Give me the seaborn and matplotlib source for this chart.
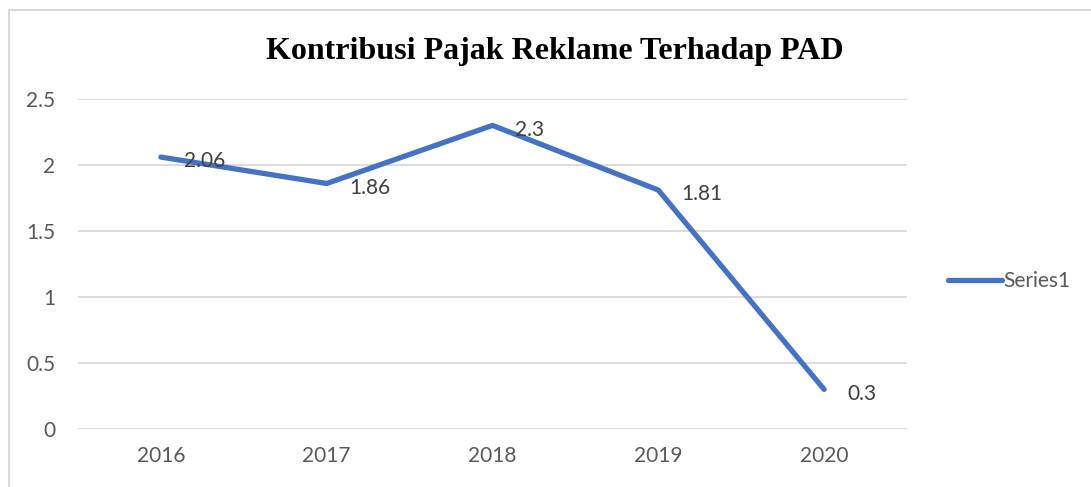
import matplotlib
matplotlib.use("Agg")
import matplotlib.pyplot as plt
from matplotlib.lines import Line2D
import seaborn as sns
import pandas as pd

years = ["2016", "2017", "2018", "2019", "2020"]
values = [2.06, 1.86, 2.3, 1.81, 0.3]
series_name = "Series1"
title = "Kontribusi Pajak Reklame Terhadap PAD"
yticks = [0, 0.5, 1, 1.5, 2, 2.5]

sns.set_theme(style="white")
plt.rcParams['font.family'] = ['Lato', 'DejaVu Sans']

W, H = 1091, 487
fig = plt.figure(figsize=(W / 100, H / 100), dpi=100)
ax = fig.add_axes([78 / W, 58 / H, (907 - 78) / W, (429 - 99) / H])

df = pd.DataFrame({"idx": range(len(years)), "value": values, "series": series_name})
sns.lineplot(data=df, x="idx", y="value", ax=ax, color="#4472C4", linewidth=3.8,
             solid_capstyle="round", legend=False)

ax.set_xlim(-0.5, len(years) - 0.5)
ax.set_ylim(0, 2.5)
ax.set_yticks(yticks)
ax.set_yticklabels([f"{t:g}" for t in yticks])
ax.set_xticks(range(len(years)))
ax.set_xticklabels(years)
ax.yaxis.grid(True, color="#d9d9d9", linewidth=1.3)
ax.xaxis.grid(False)
for s in ax.spines.values():
    s.set_visible(False)
ax.tick_params(axis="both", length=0, labelsize=15, colors="#595959")
ax.tick_params(axis="y", pad=16.5)
ax.tick_params(axis="x", pad=12)
ax.set_xlabel("")
ax.set_ylabel("")

for i, v in enumerate(values):
    ax.annotate(f"{v:g}", (i, v), xytext=(16.5, -3), textcoords="offset points",
                ha="left", va="center", fontsize=15, color="#404040", zorder=5)

fig.text(555 / W, 1 - 52 / H, title, ha="center", va="center",
         fontsize=23, fontweight="bold", family="Liberation Serif", color="black")

# legend
handle = Line2D([0], [0], color="#4472C4", linewidth=3.8, solid_capstyle="round")
fig.legend([handle], [series_name], loc="center left",
           bbox_to_anchor=(929 / W, 1 - 281 / H), frameon=False, fontsize=15,
           handlelength=2.6, handletextpad=0.05, labelcolor="#595959")

# chart border
fig.add_artist(Line2D([9 / W, 9 / W], [0, 1 - 10 / H], transform=fig.transFigure,
                      color="#d9d9d9", linewidth=1.5))
fig.add_artist(Line2D([9 / W, 1], [1 - 10 / H, 1 - 10 / H], transform=fig.transFigure,
                      color="#d9d9d9", linewidth=1.5))

fig.savefig("out.png", dpi=100)
